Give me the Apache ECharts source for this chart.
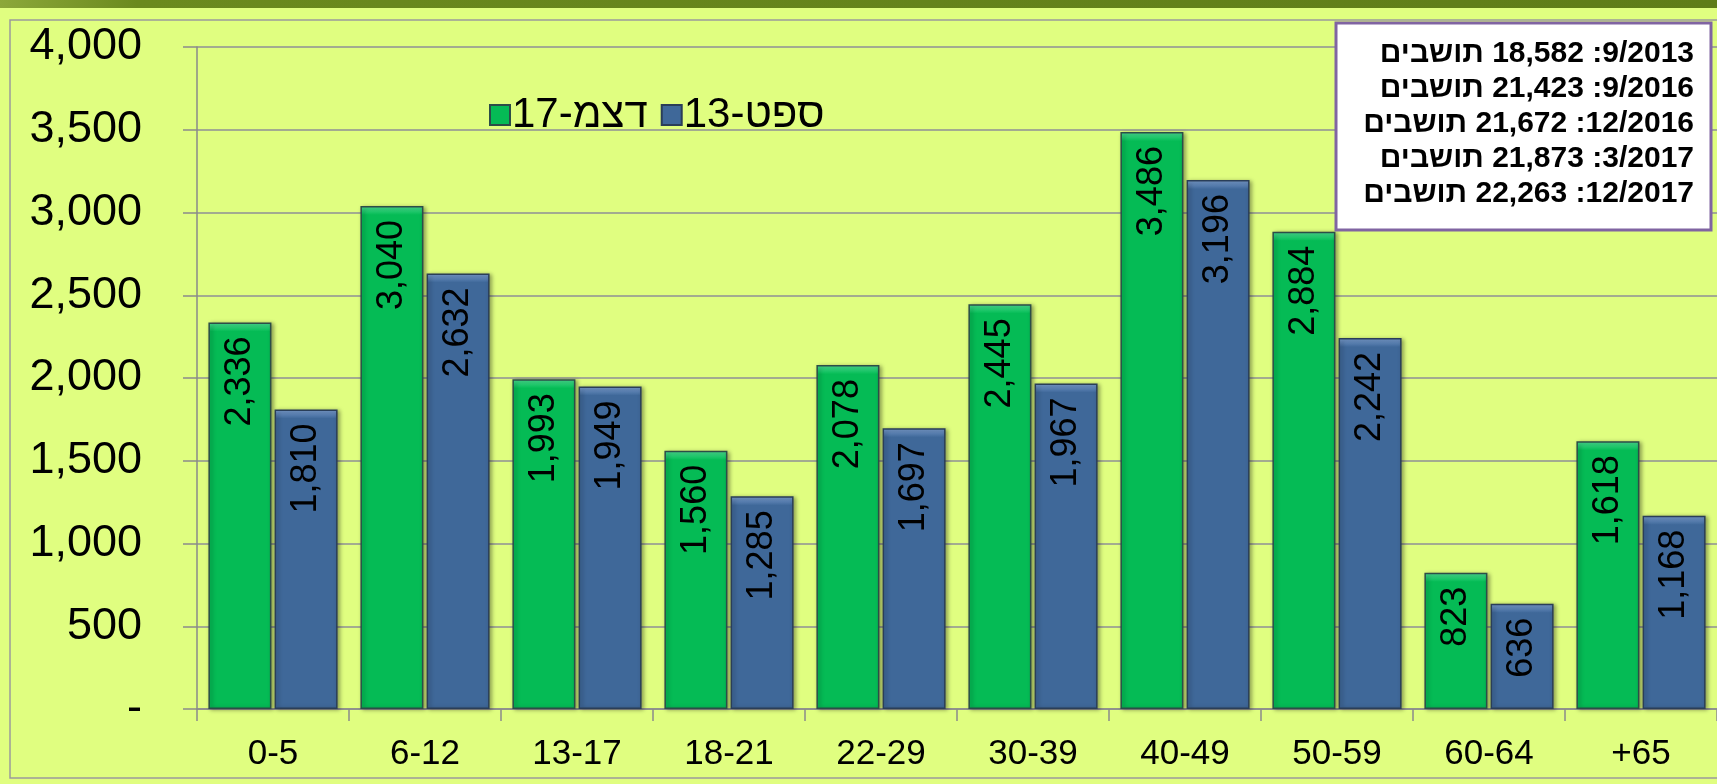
<!DOCTYPE html>
<html>
<head>
<meta charset="utf-8">
<script src="https://cdn.jsdelivr.net/npm/echarts@6/dist/echarts.min.js"></script>
<style>
  html, body { margin: 0; padding: 0; background: #E0FE80; overflow: hidden; }
  #chart { width: 1717px; height: 784px; }
</style>
</head>
<body>
<div id="chart"></div>
<script>
// ---- data ----
const categories = ['0-5', '6-12', '13-17', '18-21', '22-29', '30-39', '40-49', '50-59', '60-64', '+65'];
const dec17 = [2336, 3040, 1993, 1560, 2078, 2445, 3486, 2884, 823, 1618];
const sep13 = [1810, 2632, 1949, 1285, 1697, 1967, 3196, 2242, 636, 1168];
const seriesNames = ['דצמ-17', 'ספט-13'];
const yTickValues = [0, 500, 1000, 1500, 2000, 2500, 3000, 3500, 4000];
const yTickLabels = ['-', '500', '1,000', '1,500', '2,000', '2,500', '3,000', '3,500', '4,000'];
const noteLines = [
  '9/2013: 18,582 תושבים',
  '9/2016: 21,423 תושבים',
  '12/2016: 21,672 תושבים',
  '3/2017: 21,873 תושבים',
  '12/2017: 22,263 תושבים'
];

// ---- layout / style ----
const FONT = '"Liberation Sans", Arial, sans-serif';
const GRID_TOP = 47, GRID_BOTTOM = 75;
const plotH = 784 - GRID_TOP - GRID_BOTTOM;
const yMax = 4000;

function bevelItems(values, light, base) {
  return values.map(v => {
    const h = v / yMax * plotH;
    const f = Math.min(0.5, 9 / h);
    return {
      value: v,
      itemStyle: {
        color: {
          type: 'linear', x: 0, y: 0, x2: 0, y2: 1,
          colorStops: [
            { offset: 0, color: light },
            { offset: f, color: base },
            { offset: 1, color: base }
          ]
        }
      }
    };
  });
}

const fmt = v => Number(v).toLocaleString('en-US');

const chart = echarts.init(document.getElementById('chart'), null, { renderer: 'canvas' });

const labelCommon = {
  show: true,
  position: 'insideTop',
  rotate: 90,
  align: 'right',
  verticalAlign: 'middle',
  distance: 14,
  fontSize: 36,
  color: '#000',
  fontFamily: FONT,
  formatter: p => fmt(p.value)
};

const option = {
  backgroundColor: '#E0FE80',
  textStyle: { fontFamily: FONT },
  animation: false,
  graphic: [
    {
      type: 'rect', z: 0, silent: true,
      shape: { x: 0, y: 0, width: 1717, height: 8 },
      style: {
        fill: {
          type: 'linear', x: 0, y: 0, x2: 1, y2: 0,
          colorStops: [
            { offset: 0, color: '#8CA83A' },
            { offset: 0.08, color: '#6B8A1E' },
            { offset: 1, color: '#5F7D18' }
          ]
        }
      }
    },
    {
      type: 'rect', z: 0, silent: true,
      shape: { x: 10, y: 20, width: 1740, height: 758 },
      style: { fill: null, stroke: '#9A9A9A', lineWidth: 1.5 }
    },
    {
      type: 'rect', z: 100, silent: true,
      shape: { x: 1336, y: 23, width: 375, height: 207 },
      style: { fill: '#FFFFFF', stroke: '#8064A2', lineWidth: 3 }
    },
    {
      type: 'text', z: 101, silent: true,
      x: 1694, y: 36,
      style: {
        text: noteLines.map(s => '\u202B' + s + '\u202C').join('\n'),
        align: 'right',
        verticalAlign: 'top',
        fontSize: 30,
        fontWeight: 'bold',
        fontFamily: FONT,
        lineHeight: 35,
        fill: '#000'
      }
    }
  ],
  legend: {
    left: 484,
    top: 89,
    itemWidth: 20,
    itemHeight: 20,
    itemGap: 13,
    icon: 'rect',
    textStyle: { fontSize: 42, color: '#000', fontFamily: FONT, padding: [0, 0, 0, -3] },
    data: seriesNames.map(n => ({ name: n }))
  },
  grid: { left: 197, top: GRID_TOP, width: 1528, bottom: GRID_BOTTOM, containLabel: false },
  xAxis: {
    type: 'category',
    data: categories,
    axisLine: { show: true, lineStyle: { color: '#8A8A8A', width: 1.5 } },
    axisTick: { show: true, length: 12, alignWithLabel: false, lineStyle: { color: '#8A8A8A', width: 1.5 } },
    axisLabel: { fontSize: 35, color: '#000', margin: 28, fontFamily: FONT },
    splitLine: { show: false }
  },
  yAxis: {
    type: 'value',
    min: 0,
    max: yMax,
    interval: 500,
    axisLine: { show: true, lineStyle: { color: '#8A8A8A', width: 1.5 } },
    axisTick: { show: true, length: 14, lineStyle: { color: '#8A8A8A', width: 1.5 } },
    axisLabel: {
      fontSize: 45, color: '#000', margin: 55, fontFamily: FONT,
      formatter: v => yTickLabels[yTickValues.indexOf(v)] ?? fmt(v)
    },
    splitLine: { show: true, lineStyle: { color: '#8F8F96', width: 1.5 } }
  },
  series: [
    {
      name: seriesNames[0],
      type: 'bar',
      data: bevelItems(dec17, '#4EE596', '#05BB55'),
      barWidth: 63,
      barGap: '5%',
      itemStyle: {
        color: '#05BB55',
        borderColor: '#2C4D48',
        borderWidth: 1.5,
        shadowColor: 'rgba(0,0,0,0.35)',
        shadowBlur: 4,
        shadowOffsetX: 2,
        shadowOffsetY: 1
      },
      label: labelCommon
    },
    {
      name: seriesNames[1],
      type: 'bar',
      data: bevelItems(sep13, '#7FA3D6', '#3F6899'),
      barWidth: 63,
      itemStyle: {
        color: '#3F6899',
        borderColor: '#2A3E58',
        borderWidth: 1.5,
        shadowColor: 'rgba(0,0,0,0.35)',
        shadowBlur: 4,
        shadowOffsetX: 2,
        shadowOffsetY: 1
      },
      label: labelCommon
    }
  ]
};

chart.setOption(option);
</script>
</body>
</html>
